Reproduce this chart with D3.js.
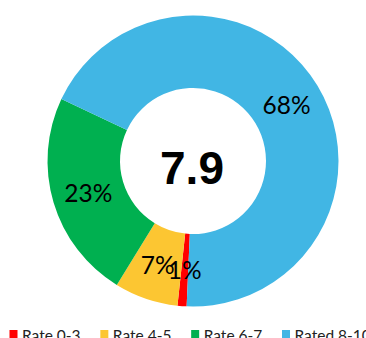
<!DOCTYPE html>
<html>
<head>
<meta charset="utf-8">
<script src="https://cdn.jsdelivr.net/npm/d3@7"></script>
<style>
  html, body { margin: 0; padding: 0; background: #fff; overflow: hidden; }
  svg { display: block; }
</style>
</head>
<body>
<svg id="chart" width="366" height="338"></svg>
<script>
// Rating groups and their share of responses (%)
const categories = ["Rate 0-3", "Rate 4-5", "Rate 6-7", "Rated 8-10"];
const shares = [1, 7, 23, 68];
const colors = ["#FF0000", "#FCC632", "#00B050", "#41B6E4"];
const averageScore = "7.9";

const width = 366, height = 338;
const cx = 193, cy = 161;
const outerR = 145.5, innerR = 73;
const startDeg = 182.5;

const svg = d3.select("#chart");

const pie = d3.pie()
  .sort(null)
  .value(d => d)
  .startAngle(startDeg * Math.PI / 180)
  .endAngle((startDeg + 360) * Math.PI / 180);

const arc = d3.arc().innerRadius(innerR).outerRadius(outerR);

const color = d3.scaleOrdinal().domain(categories).range(colors);

const arcs = pie(shares);

const g = svg.append("g").attr("transform", `translate(${cx},${cy})`);

g.selectAll("path.slice")
  .data(arcs)
  .join("path")
  .attr("class", "slice")
  .attr("d", arc)
  .attr("fill", (d, i) => color(categories[i]));

// Percentage labels at each slice's centroid
g.selectAll("text.pct")
  .data(arcs)
  .join("text")
  .attr("class", "pct")
  .attr("transform", d => `translate(${arc.centroid(d)})`)
  .attr("text-anchor", "middle")
  .attr("dy", "0.38em")
  .style("font-family", "Lato, 'Open Sans', sans-serif")
  .style("font-size", "24.5px")
  .attr("fill", "#000")
  .text(d => d.data + "%");

// Average score in the hole
g.append("text")
  .attr("x", -1)
  .attr("y", 23)
  .attr("text-anchor", "middle")
  .style("font-family", "'Liberation Sans', Arial, sans-serif")
  .style("font-weight", "bold")
  .style("font-size", "46px")
  .attr("fill", "#000")
  .text(averageScore);

// Legend along the bottom edge
const legendX = d3.scalePoint().domain(categories).range([9.5, 282]);
const legend = svg.append("g");
const item = legend.selectAll("g")
  .data(categories)
  .join("g")
  .attr("transform", d => `translate(${legendX(d)},330)`);

item.append("rect")
  .attr("width", 8)
  .attr("height", 8)
  .attr("fill", d => color(d));

item.append("text")
  .attr("x", 12.5)
  .attr("y", 10.5)
  .style("font-family", "Lato, 'Open Sans', sans-serif")
  .style("font-size", "15.5px")
  .attr("fill", "#222")
  .text(d => d);
</script>
</body>
</html>
